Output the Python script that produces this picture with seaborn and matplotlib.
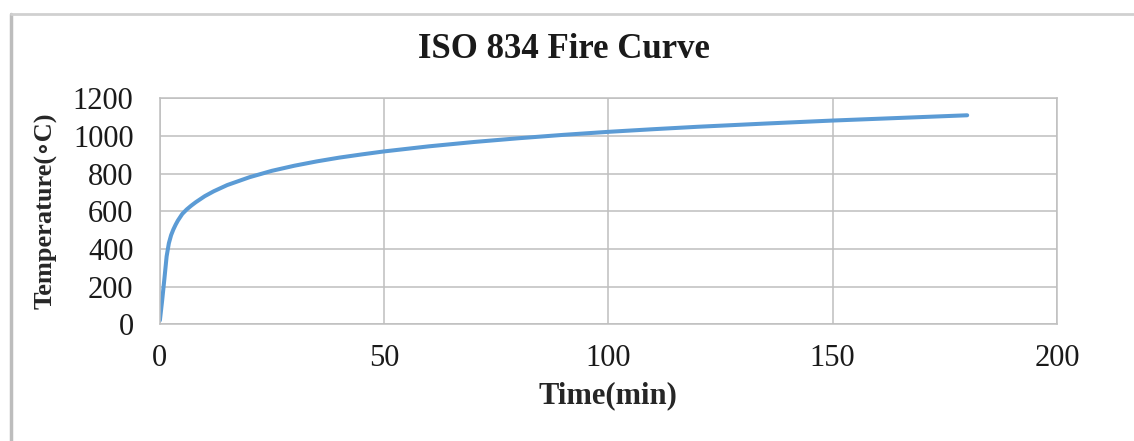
import matplotlib
matplotlib.use("Agg")
import numpy as np
import pandas as pd
import seaborn as sns
import matplotlib.pyplot as plt
from matplotlib.lines import Line2D

# values
time_min = [0, 0.5, 1, 1.5, 2, 2.5, 3, 3.5, 4, 5, 6, 7, 8, 10, 12, 15, 17.5, 20, 25,
            30, 35, 40, 45, 50, 60, 70, 80, 90, 100, 110, 120, 135, 150, 165, 180]
temp_c = [20, 125, 240, 360, 430, 473, 503, 528, 550, 586, 610, 630, 648, 680, 706, 739,
          760, 781, 815, 842, 865, 885, 902, 918, 945, 968, 988, 1006, 1022, 1036, 1049, 1066,
          1082, 1096, 1110]

x_ticks = [0, 50, 100, 150, 200]
y_ticks = [0, 200, 400, 600, 800, 1000, 1200]

df = pd.DataFrame({"Time(min)": time_min, "Temperature": temp_c})

sns.set_style("white")
plt.rcParams['font.family'] = ['Liberation Serif', 'DejaVu Serif']

fig = plt.figure(figsize=(11.34, 4.41), dpi=100)
ax = fig.add_axes([0.141, 0.265, 0.791, 0.512])

sns.lineplot(data=df, x="Time(min)", y="Temperature", ax=ax,
             color="#5B9BD5", linewidth=2.9)

ax.set_xlim(0, 200)
ax.set_ylim(0, 1200)
ax.set_xticks(x_ticks)
ax.set_yticks(y_ticks)
ax.grid(True, color="#BFBFBF", linewidth=1.1)
for s in ax.spines.values():
    s.set_color("#BFBFBF")
    s.set_linewidth(1.1)
ax.tick_params(axis="both", length=7, width=1.1, color="#BFBFBF",
               labelsize=22, labelcolor="#1a1a1a")
ax.tick_params(axis="y", pad=12)
ax.tick_params(axis="x", pad=7)

ax.set_xlabel("Time(min)", fontsize=22, fontweight="bold", labelpad=6)
ax.set_ylabel("Temperature(\u2218C)", fontsize=19, fontweight="bold")
ax.yaxis.set_label_coords(-0.114, 0.5)

# title sits centred on the chart area, not on the plot
fig.text(0.497, 0.888, "ISO 834 Fire Curve", fontsize=25, fontweight="bold",
         ha="center", va="center", color="#1a1a1a")

# outer chart frame (left and top edges)
fig.add_artist(Line2D([11 / 1134, 11 / 1134], [0, 1 - 14 / 441], color="#BDBDBD", linewidth=2.5))
fig.add_artist(Line2D([11 / 1134, 1], [1 - 14 / 441, 1 - 14 / 441], color="#D0D0D0", linewidth=2.0))

fig.savefig("out.png", dpi=100)
